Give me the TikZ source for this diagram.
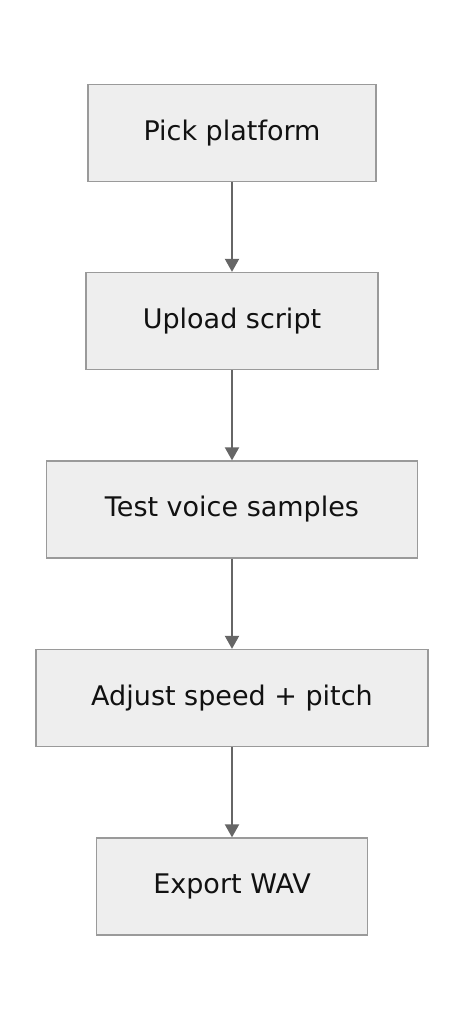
\documentclass[tikz,border=0pt]{standalone}
\usepackage{fontspec}
\setmainfont{DejaVu Sans}
\usetikzlibrary{arrows.meta}
\definecolor{boxfill}{HTML}{EEEEEE}
\definecolor{boxline}{HTML}{9A9A9A}
\definecolor{arrowcol}{HTML}{666666}
\definecolor{txt}{HTML}{111111}
\tikzset{
  stepbox/.style={draw=boxline, fill=boxfill, line width=1.3pt, minimum height=97pt,
    inner sep=0pt, text=txt, font=\fontsize{27}{32}\selectfont},
  conn/.style={draw=arrowcol, line width=2pt, -{Triangle[width=14pt,length=13pt]}}
}
\begin{document}
\begin{tikzpicture}[x=1pt,y=-1pt]
\useasboundingbox (0,0) rectangle (464,1020);
\node[stepbox, minimum width=288pt] (a) at (232,133) {Pick platform};
\node[stepbox, minimum width=292pt] (b) at (232,321) {Upload script};
\node[stepbox, minimum width=371pt] (c) at (232,509.5) {Test voice samples};
\node[stepbox, minimum width=392pt] (d) at (232,698) {Adjust speed + pitch};
\node[stepbox, minimum width=271pt] (e) at (232,886.5) {Export WAV};
\draw[conn] (a.south) -- (b.north);
\draw[conn] (b.south) -- (c.north);
\draw[conn] (c.south) -- (d.north);
\draw[conn] (d.south) -- (e.north);
\end{tikzpicture}
\end{document}
